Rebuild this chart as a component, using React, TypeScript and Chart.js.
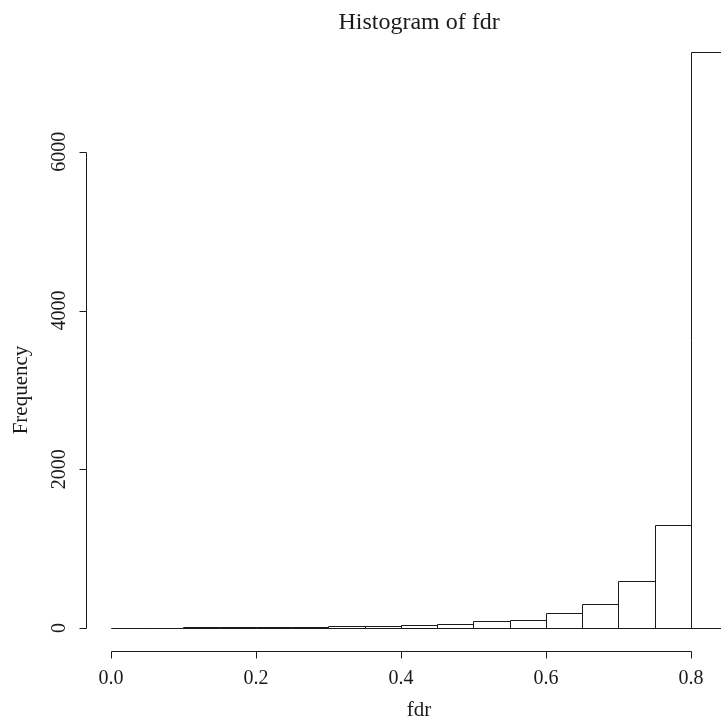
import React, { useEffect, useRef } from "react";
import { Chart, registerables } from "chart.js";

Chart.register(...registerables);

const binStarts = [0, 0.05, 0.1, 0.15, 0.2, 0.25, 0.3, 0.35, 0.4, 0.45, 0.5, 0.55, 0.6, 0.65, 0.7, 0.75, 0.8];
const binWidth = 0.05;
const counts = [3, 4, 8, 10, 18, 15, 25, 22, 42, 48, 85, 100, 185, 306, 588, 1293, 7260];
const xTicks = [0, 0.2, 0.4, 0.6, 0.8];
const xTickLabels = ["0.0", "0.2", "0.4", "0.6", "0.8"];
const yTicks = [0, 2000, 4000, 6000];
const yTickLabels = ["0", "2000", "4000", "6000"];
const mainTitle = "Histogram of fdr";
const xTitle = "fdr";
const yTitle = "Frequency";

const FONT = "'Liberation Serif', 'Times New Roman', serif";
const INK = "#1a1a1a";

// Outlines each histogram bar as R does (a full rectangle, even when very short)
const barOutlinePlugin = {
  id: "barOutline",
  afterDatasetsDraw(chart: any) {
    const ctx = chart.ctx;
    const meta = chart.getDatasetMeta(0);
    ctx.save();
    ctx.strokeStyle = INK;
    ctx.lineWidth = 1;
    meta.data.forEach((bar: any) => {
      const p = bar.getProps(["x", "y", "base", "width"], true);
      const left = Math.round(p.x - p.width / 2) + 0.5;
      const right = Math.round(p.x + p.width / 2) + 0.5;
      const top = Math.round(p.y) + 0.5;
      const bottom = Math.round(p.base) + 0.5;
      ctx.beginPath();
      ctx.rect(left, top, right - left, bottom - top);
      ctx.stroke();
    });
    ctx.restore();
  },
};

const rAxesPlugin = {
  id: "rAxes",
  afterDraw(chart: any) {
    const ctx = chart.ctx;
    const xs = chart.scales.x;
    const ys = chart.scales.y;
    const area = chart.chartArea;
    ctx.save();
    ctx.strokeStyle = INK;
    ctx.fillStyle = INK;
    ctx.lineWidth = 1;
    const tick = 7;

    // x axis
    const ay = Math.round(area.bottom) + 0.5;
    const x0 = Math.round(xs.getPixelForValue(xTicks[0])) + 0.5;
    const x1 = Math.round(xs.getPixelForValue(xTicks[xTicks.length - 1])) + 0.5;
    ctx.beginPath();
    ctx.moveTo(x0, ay);
    ctx.lineTo(x1, ay);
    xTicks.forEach((v) => {
      const px = Math.round(xs.getPixelForValue(v)) + 0.5;
      ctx.moveTo(px, ay);
      ctx.lineTo(px, ay + tick);
    });
    ctx.stroke();
    ctx.font = `20px ${FONT}`;
    ctx.textAlign = "center";
    ctx.textBaseline = "alphabetic";
    xTicks.forEach((v, i) => {
      ctx.fillText(xTickLabels[i], xs.getPixelForValue(v), 684);
    });

    // y axis
    const ax = Math.round(area.left) + 0.5;
    const y0 = Math.round(ys.getPixelForValue(yTicks[0])) + 0.5;
    const y1 = Math.round(ys.getPixelForValue(yTicks[yTicks.length - 1])) + 0.5;
    ctx.beginPath();
    ctx.moveTo(ax, y0);
    ctx.lineTo(ax, y1);
    yTicks.forEach((v) => {
      const py = Math.round(ys.getPixelForValue(v)) + 0.5;
      ctx.moveTo(ax, py);
      ctx.lineTo(ax - tick, py);
    });
    ctx.stroke();
    yTicks.forEach((v, i) => {
      ctx.save();
      ctx.translate(65, ys.getPixelForValue(v));
      ctx.rotate(-Math.PI / 2);
      ctx.textAlign = "center";
      ctx.fillText(yTickLabels[i], 0, 0);
      ctx.restore();
    });

    // titles
    ctx.font = `24px ${FONT}`;
    ctx.textAlign = "center";
    const cx = xs.getPixelForValue(0.85 / 2);
    ctx.fillText(mainTitle, cx, 29);
    ctx.font = `21px ${FONT}`;
    ctx.fillText(xTitle, cx, 716);
    ctx.save();
    ctx.translate(27, 390);
    ctx.rotate(-Math.PI / 2);
    ctx.fillText(yTitle, 0, 0);
    ctx.restore();
    ctx.restore();
  },
};

export default function App() {
  const canvasRef = useRef<HTMLCanvasElement | null>(null);

  useEffect(() => {
    if (!canvasRef.current) return;
    const data = binStarts.map((s, i) => ({ x: s + binWidth / 2, y: counts[i] }));
    const chart = new Chart(canvasRef.current, {
      type: "bar",
      data: {
        datasets: [
          {
            data: data as any,
            backgroundColor: "#ffffff",
            borderWidth: 0,
            barPercentage: 1,
            categoryPercentage: 1,
          },
        ],
      },
      options: {
        animation: false,
        responsive: true,
        maintainAspectRatio: false,
        layout: { padding: { left: 86, right: 0, top: 30, bottom: 66 } },
        plugins: { legend: { display: false }, tooltip: { enabled: false }, title: { display: false } },
        scales: {
          x: { type: "linear", min: -0.03448, max: 0.8414, offset: false, display: false },
          y: { type: "linear", min: -290, max: 7535, display: false },
        },
      },
      plugins: [barOutlinePlugin, rAxesPlugin],
    });
    return () => chart.destroy();
  }, []);

  return (
    <div style={{ position: "fixed", left: 0, top: 0, width: 721, height: 717, background: "#fff" }}>
      <canvas ref={canvasRef} />
    </div>
  );
}
